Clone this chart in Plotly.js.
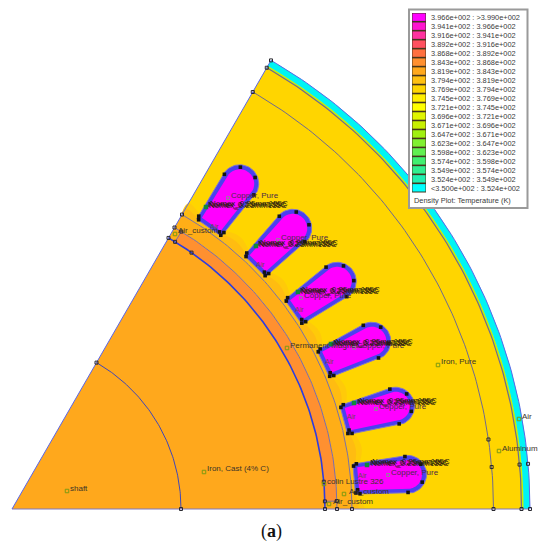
<!DOCTYPE html>
<html>
<head>
<meta charset="utf-8">
<script src="https://cdn.plot.ly/plotly-3.0.1.min.js"></script>
<style>html,body{margin:0;padding:0;background:#fff}#c{width:550px;height:547px}</style>
</head>
<body>
<div id="c"></div>
<script>
// ---- chart values ----
const legendLabels = ["3.966e+002 : >3.990e+002","3.941e+002 : 3.966e+002","3.916e+002 : 3.941e+002","3.892e+002 : 3.916e+002","3.868e+002 : 3.892e+002","3.843e+002 : 3.868e+002","3.819e+002 : 3.843e+002","3.794e+002 : 3.819e+002","3.769e+002 : 3.794e+002","3.745e+002 : 3.769e+002","3.721e+002 : 3.745e+002","3.696e+002 : 3.721e+002","3.671e+002 : 3.696e+002","3.647e+002 : 3.671e+002","3.623e+002 : 3.647e+002","3.598e+002 : 3.623e+002","3.574e+002 : 3.598e+002","3.549e+002 : 3.574e+002","3.524e+002 : 3.549e+002","<3.500e+002 : 3.524e+002"];
const legendColors = ["#ff00ff","#ff14d0","#ff32a0","#ff5060","#ff7040","#ff9030","#ffa81c","#ffc010","#ffd500","#ffee00","#ffff00","#e0f500","#c8f000","#a0f010","#80f030","#60f050","#40f070","#30f090","#20f0b0","#00ffff"];
const legendTitle = "Density Plot: Temperature (K)";
const caption = "(<b>a</b>)";

// radii of the machine regions (picture units), inner to outer
const regionNames = ["rotor","magnet","airgap","stator","shell","housing"];
const regionInner = [0,313,325,340,509.5,511.5];
const regionOuter = [313,325,340,512,511.5,518];
const regionColors = ["#ffa81c","#ff9030","#ffae17","#ffd500","#c8f000","#00f4f4"];
const arcRadii = [169,313,325,340,481.5,509.5,518];
const arcColors = ["#3f47b8","#2e3ce0","#7a6fa8","#7a6fa8","#6f6a90","#6f6a90","#5a66e8"];
const arcWidths = [1,1.6,1,1,1,1.2,1];
const sectorDeg = 60;
const magnetGapDeg = 1.4;

// warm tooth-root zone of the stator (angle in degrees, reach in picture units)
const glowAngles = [0,5,10,15,20,25,30,35,40,45,50,55,60];
const glowOuterR = [353,346,355,346,355,346,355,346,355,346,355,346,353];
const glowInnerR = [347,343,349,343,349,343,349,343,349,343,349,343,347];

// stator slots
const slotAngles = [5,15,25,35,45,55];
const slotOuter = {neckR:343.5, neckHalf:15, tipR:397, tipRadius:19};
const slotInner = {neckR:347.5, neckHalf:11.5, tipR:397, tipRadius:14.5};
// black wedge blobs in slot coordinates [radius, offset]
const blobR = [344,346,348,344,347,396,396,411,411];
const blobOff = [-14,-11,-15,13,15,-18,18,-9,9];

// nodes: [radius, angle]
const nodeR = [169,169,313,313,313,313,313,313,325,325,340,340,481.5,481.5,481.5,481.5,509.5,509.5,509.5,518,518,518,325,325];
const nodeA = [0,60,0,60,5,55,1.4,58.6,0,60,0,60,0,60,5,8.3,0,60,5,0,60,5,1.4,58.6];

// labels
const nomexLabel = "Nomex_0.25mm155C";
const nomexX = [208,258,300,333,357,370];
const nomexY = [205,244,291,343,402,463];
const nomexMarkX = [206,256,298,331,354,367];
const nomexMarkY = [207,246,292,344,403,465];
const copperLabel = "Copper, Pure";
const copperX = [231,281,304,357,379,391];
const copperY = [196,238,296,346,407,473];
const airSlotX = [210,256,295,325,347,358];
const airSlotY = [227,265,310,362,417,476];
const namedLabels = ["Air_custom","Air_custom","Air_custom","colin Lustre 326","Iron, Cast (4% C)","shaft","Iron, Pure","Aluminum","Air","Permanent Magnet"];
const namedX = [178,333,349,327,207,70,441,502,522,290];
const namedY = [231,502,492,482,469,489,362,449,417,346];
const markX  = [175,329,344,324,204,67,438,499,519,287];
const markY  = [234,504,494,484,472,491,365,451,419,348];

// ---- geometry helpers: polar picture units to page units ----
const cx = 12, cy = 509;
const rad = d => d*Math.PI/180;
const px = (r,a) => cx + r*Math.cos(rad(a));
const py = (r,a) => cy - r*Math.sin(rad(a));
const steps = n => Array.from({length:n+1},(_,i)=>i/n);

function arc(r,a0,a1){
  const t = steps(90), x=[], y=[];
  t.forEach(k=>{const a=a0+(a1-a0)*k; x.push(px(r,a)); y.push(py(r,a));});
  return {x,y};
}
function band(r0,r1,a0,a1){
  const o = arc(r1,a0,a1), i = r0>0 ? arc(r0,a1,a0) : {x:[cx],y:[cy]};
  return {x:o.x.concat(i.x), y:o.y.concat(i.y)};
}
function slotPoint(a,u,v){ // u along the slot axis, v across it
  const c=Math.cos(rad(a)), s=Math.sin(rad(a));
  return [cx + u*c - v*s, cy - (u*s + v*c)];
}
function slotShape(a,p){
  const xs=[], ys=[];
  const add=(u,v)=>{const q=slotPoint(a,u,v); xs.push(q[0]); ys.push(q[1]);};
  add(p.neckR,-p.neckHalf);
  steps(32).forEach(k=>{
    const ph=-84+168*k;
    add(p.tipR+p.tipRadius*Math.cos(rad(ph)), p.tipRadius*Math.sin(rad(ph)));
  });
  add(p.neckR,p.neckHalf);
  xs.push(xs[0]); ys.push(ys[0]);
  return {x:xs,y:ys};
}

// ---- traces ----
const traces = [];
const fillTrace = (g,color,line,w) => traces.push({type:"scatter",mode:line?"lines":"none",x:g.x,y:g.y,fill:"toself",fillcolor:color,line:{color:line||color,width:w||0},hoverinfo:"skip"});
const lineTrace = (g,color,w) => traces.push({type:"scatter",mode:"lines",x:g.x,y:g.y,line:{color:color,width:w},hoverinfo:"skip"});

fillTrace(band(regionInner[0],regionOuter[0],0,sectorDeg),regionColors[0]);
fillTrace(band(regionInner[2],regionOuter[2],0,sectorDeg),regionColors[2]);
fillTrace(band(regionInner[1],regionOuter[1],0,sectorDeg),regionColors[2]);
fillTrace(band(regionInner[1],regionOuter[1],magnetGapDeg,sectorDeg-magnetGapDeg),regionColors[1]);
fillTrace(band(regionInner[3],regionOuter[3],0,sectorDeg),regionColors[3]);
fillTrace(band(regionInner[4],regionOuter[4],0,sectorDeg),regionColors[4]);
fillTrace(band(regionInner[5],regionOuter[5],0,sectorDeg),regionColors[5]);

// tooth-root glow, smoothed
function glowTrace(radii,color){
  const xo=[], yo=[];
  glowAngles.forEach((a,i)=>{xo.push(px(radii[i],a)); yo.push(py(radii[i],a));});
  const b=arc(340,sectorDeg,0);
  traces.push({type:"scatter",mode:"lines",x:xo.concat(b.x),y:yo.concat(b.y),fill:"toself",fillcolor:color,
    line:{shape:"spline",smoothing:1,width:0,color:color},hoverinfo:"skip"});
}
glowTrace(glowOuterR,"#ffca09");
glowTrace(glowInnerR,"#ffbc11");

// arcs and straight edges
arcRadii.forEach((r,i)=>lineTrace(arc(r,0,sectorDeg),arcColors[i],arcWidths[i]));
lineTrace({x:[cx,px(518,0)],y:[cy,cy]},"#8078c0",1.2);
lineTrace({x:[cx,px(518,sectorDeg)],y:[cy,py(518,sectorDeg)]},"#5a66e8",1);
lineTrace({x:[px(313,magnetGapDeg),px(325,magnetGapDeg)],y:[py(313,magnetGapDeg),py(325,magnetGapDeg)]},"#7a6fa8",1);
lineTrace({x:[px(313,sectorDeg-magnetGapDeg),px(325,sectorDeg-magnetGapDeg)],y:[py(313,sectorDeg-magnetGapDeg),py(325,sectorDeg-magnetGapDeg)]},"#7a6fa8",1);

// slots
slotAngles.forEach(a=>{
  fillTrace(slotShape(a,slotOuter),"#4b3ff0","#8078c8",1);
  fillTrace(slotShape(a,slotInner),"#ff00ff");
  const bx=[],by=[];
  blobR.forEach((u,i)=>{const q=slotPoint(a,u,blobOff[i]); bx.push(q[0]); by.push(q[1]);});
  traces.push({type:"scatter",mode:"markers",x:bx,y:by,marker:{symbol:"square",size:3.6,color:"#141414"},hoverinfo:"skip"});
});

// nodes
traces.push({type:"scatter",mode:"markers",x:nodeR.map((r,i)=>px(r,nodeA[i])),y:nodeR.map((r,i)=>py(r,nodeA[i])),
  marker:{symbol:"square-open",size:3,color:"#2a2a30",line:{width:1}},hoverinfo:"skip"});

// label markers
traces.push({type:"scatter",mode:"markers",x:markX,y:markY,marker:{symbol:"square-open",size:3.5,color:"#7d9a10",line:{width:1}},hoverinfo:"skip"});
traces.push({type:"scatter",mode:"markers",x:nomexMarkX,y:nomexMarkY,marker:{symbol:"square",size:4.5,color:"#0f8a3a"},hoverinfo:"skip"});
traces.push({type:"scatter",mode:"markers",x:copperX.map(v=>v-3),y:copperY.map(v=>v+2),marker:{symbol:"square-open",size:3,color:"#9a7aa0",line:{width:1}},hoverinfo:"skip"});

const labelFont = "Liberation Sans, Arial, sans-serif";
const textTrace=(x,y,t,color,size)=>traces.push({type:"scatter",mode:"text",x:x,y:y,text:t,textposition:"middle right",
  textfont:{family:labelFont,size:size,color:color},hoverinfo:"skip",cliponaxis:false});

textTrace(namedX,namedY,namedLabels,"#3c3428",8);
textTrace(copperX,copperY,copperX.map(()=>copperLabel),"#4a2a48",8);
textTrace(airSlotX,airSlotY,airSlotX.map(()=>"Air"),"#6a4a50",7);
textTrace(nomexX,nomexY,nomexX.map(()=>nomexLabel),"#1a1208",8);
textTrace(nomexX.map(v=>v+2),nomexY.map(v=>v-1),nomexX.map(()=>nomexLabel),"#2a2010",8);
textTrace(nomexX.map(v=>v+1),nomexY.map(v=>v+1),nomexX.map(()=>nomexLabel),"#2a2010",8);

// ---- legend box, swatches ----
const shapes=[
  {type:"rect",xref:"x",yref:"y",x0:409,x1:527.5,y0:9.5,y1:208,fillcolor:"#fff",line:{color:"#9a9a9a",width:2},layer:"above"},
  {type:"rect",xref:"x",yref:"y",x0:412,x1:426,y0:13,y1:192.5,fillcolor:"#45351c",line:{width:0},layer:"above"}
];
const annotations=[];
legendColors.forEach((c,i)=>{
  shapes.push({type:"rect",xref:"x",yref:"y",x0:412.5,x1:425.5,y0:13.5+i*8.98,y1:20.9+i*8.98,fillcolor:c,line:{width:0},layer:"above"});
  annotations.push({xref:"x",yref:"y",x:429,y:17.8+i*8.98,text:legendLabels[i].replace("<","&lt;").replace(">","&gt;"),showarrow:false,xanchor:"left",yanchor:"middle",
    font:{family:labelFont,size:7.4,color:"#3a3a3a"}});
});
annotations.push({xref:"x",yref:"y",x:412,y:200,text:legendTitle,showarrow:false,xanchor:"left",yanchor:"middle",
  font:{family:labelFont,size:7.4,color:"#3a3a3a"}});
annotations.push({xref:"x",yref:"y",x:271,y:531,text:caption,showarrow:false,xanchor:"center",yanchor:"middle",
  font:{family:"Liberation Serif, serif",size:18,color:"#111"}});

const layout={
  width:550,height:547,margin:{l:0,r:0,t:0,b:0},
  paper_bgcolor:"#fff",plot_bgcolor:"#fff",showlegend:false,hovermode:false,
  xaxis:{range:[0,550],visible:false,fixedrange:true},
  yaxis:{range:[547,0],visible:false,fixedrange:true},
  shapes:shapes,annotations:annotations
};
Plotly.newPlot("c",traces,layout,{displayModeBar:false,staticPlot:true});
</script>
</body>
</html>
